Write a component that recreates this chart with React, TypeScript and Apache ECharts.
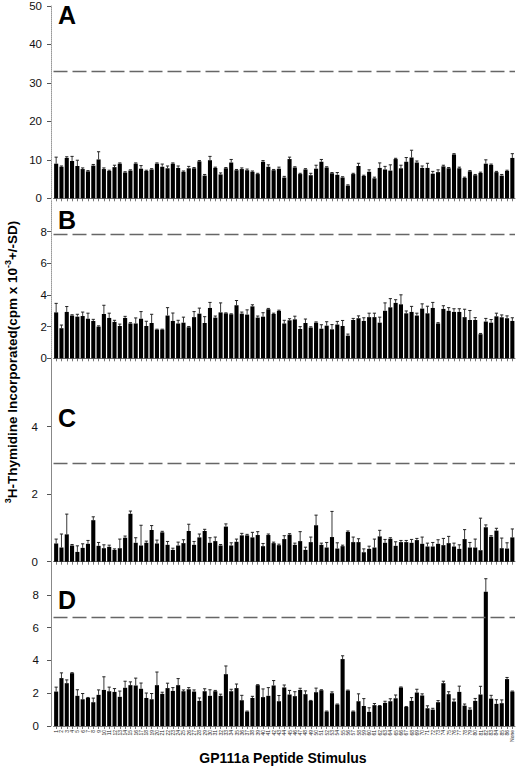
import React, { useEffect, useRef } from "react";
import * as echarts from "echarts";

const FONT = '"Liberation Sans", Arial, Helvetica, sans-serif';

const categories = [
  "1","2","3","4","5","6","7","8","9","10","11","12","13","14","15","16","17","18","19","20",
  "21","22","23","24","25","26","27","28","29","30","31","32","33","34","35","36","37","38","39","40",
  "41","42","43","44","45","46","47","48","49","50","51","52","53","54","55","56","57","58","59","60",
  "61","62","63","64","65","66","67","68","69","70","71","72","73","74","75","76","77","78","79","80",
  "81","82","83","84","85","86","None",
];

const valuesA = [
  9.0, 8.2, 10.5, 9.7, 8.4, 7.6, 7.0, 8.5, 10.1, 7.6, 7.1, 8.1, 9.0, 6.7, 7.2, 9.0, 7.7, 7.1, 7.5, 9.0,
  8.2, 7.8, 9.0, 7.9, 6.9, 7.8, 7.8, 9.6, 5.9, 9.9, 7.9, 6.2, 7.8, 9.3, 7.3, 7.6, 7.3, 6.9, 6.3,
  9.5, 8.2, 7.3, 7.7, 5.4, 10.2, 8.0, 6.3, 7.5, 6.0, 7.7, 9.5, 8.0, 6.5, 6.1, 5.4, 3.3, 6.3, 8.4, 5.8,
  6.9, 5.2, 7.9, 7.5, 7.2, 10.2, 7.8, 9.5, 10.6, 9.3, 7.9, 7.9, 6.4, 6.8, 8.3, 7.8, 11.4, 7.8, 5.3, 7.0,
  6.0, 6.6, 9.0, 8.7, 6.8, 5.9, 7.1, 10.5,
];
const sdA = [
  1.7, 0.2, 0.3, 1.2, 1.5, 0.3, 0.2, 0.3, 2.0, 0.3, 0.2, 0.5, 0.2, 0.2, 0.2, 0.2, 0.8, 0.2, 0.2, 0.2,
  0.7, 0.6, 0.2, 0.5, 0.2, 0.5, 0.2, 0.2, 0.3, 1.0, 0.2, 0.4, 0.2, 0.8, 0.2, 0.3, 0.3, 0.2, 0.2,
  0.3, 0.5, 0.2, 0.4, 0.3, 0.5, 0.2, 0.2, 0.2, 0.5, 0.9, 0.6, 0.2, 0.2, 0.6, 0.2, 0.2, 0.2, 0.7, 0.2,
  0.5, 0.3, 1.3, 0.8, 1.5, 0.2, 0.8, 1.1, 1.9, 0.4, 0.5, 1.2, 0.6, 0.6, 0.3, 0.2, 0.2, 0.3, 0.2, 0.2,
  0.2, 0.2, 1.0, 0.2, 0.2, 0.3, 0.2, 1.1,
];

const valuesB = [
  2.9, 1.9, 2.93, 2.7, 2.63, 2.67, 2.5, 2.36, 2.0, 2.8, 2.55, 2.3, 2.04, 2.55, 2.2, 2.2, 2.5, 2.04, 2.23, 1.81,
  1.81, 2.7, 2.36, 2.2, 2.25, 1.96, 2.6, 2.82, 2.23, 3.18, 2.57, 2.9, 2.84, 2.78, 3.35, 2.82, 2.76, 3.28, 2.57,
  2.63, 3.1, 2.8, 2.99, 2.2, 2.4, 2.46, 1.85, 2.23, 1.94, 2.25, 1.87, 2.06, 1.83, 2.13, 2.04, 1.43, 2.42, 2.53, 2.36,
  2.6, 2.6, 2.25, 3.0, 3.22, 3.5, 3.41, 2.84, 2.93, 2.7, 3.14, 2.84, 3.18, 2.2, 3.12, 3.0, 2.93, 2.93, 2.6, 2.42,
  2.42, 1.52, 2.32, 2.25, 2.65, 2.59, 2.53, 2.36,
];
const sdB = [
  0.57, 0.2, 0.34, 0.05, 0.15, 0.25, 0.35, 0.1, 0.05, 0.55, 0.3, 0.1, 0.12, 0.1, 0.05, 0.35, 0.45, 0.3, 0.55, 0.03,
  0.03, 0.5, 0.5, 0.2, 0.35, 0.05, 0.35, 0.35, 0.4, 0.35, 0.1, 0.6, 0.03, 0.03, 0.3, 0.1, 0.3, 0.1, 0.1,
  0.25, 0.05, 0.05, 0.05, 0.2, 0.1, 0.2, 0.15, 0.25, 0.05, 0.05, 0.25, 0.25, 0.3, 0.2, 0.35, 0.1, 0.1, 0.15, 0.2,
  0.25, 0.25, 0.35, 0.5, 0.55, 0.2, 0.6, 0.15, 0.35, 0.15, 0.3, 0.45, 0.35, 0.05, 0.2, 0.2, 0.2, 0.2, 0.5, 0.6,
  0.15, 0.05, 0.2, 0.2, 0.2, 0.15, 0.15, 0.2,
];

const valuesC = [
  0.54, 0.42, 0.81, 0.48, 0.29, 0.41, 0.53, 1.23, 0.47, 0.4, 0.44, 0.35, 0.4, 0.71, 1.42, 0.56, 0.48, 0.56, 0.94, 0.54,
  0.87, 0.5, 0.35, 0.48, 0.55, 0.91, 0.5, 0.72, 0.91, 0.56, 0.61, 0.48, 1.04, 0.48, 0.59, 0.78, 0.78, 0.72, 0.79,
  0.46, 0.79, 0.55, 0.49, 0.67, 0.8, 0.5, 0.61, 0.35, 0.58, 1.08, 0.5, 0.42, 0.73, 0.39, 0.46, 0.88, 0.58, 0.58, 0.28,
  0.38, 0.42, 0.75, 0.56, 0.68, 0.47, 0.58, 0.58, 0.56, 0.64, 0.53, 0.45, 0.45, 0.53, 0.49, 0.55, 0.45, 0.38, 0.67, 0.42,
  0.42, 0.34, 1.02, 0.74, 0.92, 0.4, 0.39, 0.72,
];
const sdC = [
  0.13, 0.4, 0.6, 0.03, 0.18, 0.12, 0.1, 0.1, 0.1, 0.1, 0.05, 0.03, 0.27, 0.05, 0.08, 0.15, 0.6, 0.05, 0.13, 0.1,
  0.03, 0.1, 0.05, 0.1, 0.1, 0.2, 0.1, 0.1, 0.05, 0.15, 0.12, 0.03, 0.08, 0.08, 0.08, 0.06, 0.03, 0.15, 0.1,
  0.08, 0.03, 0.03, 0.03, 0.1, 0.03, 0.05, 0.28, 0.08, 0.15, 0.3, 0.05, 0.15, 0.76, 0.17, 0.03, 0.03, 0.15, 0.1, 0.1,
  0.08, 0.25, 0.18, 0.1, 0.03, 0.12, 0.05, 0.05, 0.1, 0.05, 0.2, 0.1, 0.12, 0.12, 0.2, 0.2, 0.1, 0.12, 0.28, 0.15,
  0.25, 0.95, 0.07, 0.03, 0.07, 0.3, 0.17, 0.25,
];

const valuesD = [
  2.1, 2.92, 2.61, 3.22, 1.84, 1.63, 1.71, 1.45, 1.9, 2.2, 2.12, 2.08, 1.78, 2.33, 2.49, 2.47, 2.27, 1.71, 1.63, 2.49,
  1.96, 2.31, 2.14, 2.49, 2.12, 2.24, 2.1, 1.53, 2.12, 1.84, 2.12, 1.84, 3.16, 2.12, 2.31, 1.57, 0.88, 1.71, 2.49,
  1.76, 1.84, 2.47, 1.51, 2.35, 1.92, 1.82, 2.2, 1.94, 1.53, 2.06, 2.18, 0.88, 2.0, 1.31, 4.08, 2.16, 0.88, 1.51, 1.22,
  0.86, 1.27, 1.22, 1.41, 1.51, 1.69, 2.35, 1.16, 1.53, 2.04, 1.86, 1.08, 1.0, 1.45, 2.61, 1.94, 1.49, 2.08, 1.24, 1.0,
  1.53, 1.92, 8.18, 1.67, 1.35, 1.39, 2.86, 2.1,
];
const sdD = [
  0.27, 0.32, 0.2, 0.03, 0.37, 0.35, 0.03, 0.25, 0.3, 0.8, 0.25, 0.2, 0.35, 0.4, 0.2, 0.45, 0.35, 0.3, 0.35, 0.8,
  0.1, 0.3, 0.2, 0.4, 0.08, 0.1, 0.1, 0.18, 0.15, 0.37, 0.05, 0.1, 0.5, 0.12, 0.25, 0.3, 0.03, 0.1, 0.03,
  0.5, 0.5, 0.3, 0.35, 0.15, 0.25, 0.27, 0.1, 0.2, 0.03, 0.25, 0.03, 0.03, 0.08, 0.03, 0.2, 0.03, 0.03, 0.45, 0.45,
  0.25, 0.1, 0.03, 0.1, 0.15, 0.2, 0.03, 0.03, 0.2, 0.2, 0.1, 0.15, 0.08, 0.1, 0.12, 0.15, 0.15, 0.35, 0.1, 0.1,
  0.15, 0.5, 0.8, 0.2, 0.25, 0.2, 0.1, 0.03,
];

const panelLetters = ["A", "B", "C", "D"];
const thresholds = [33, 7.85, 2.92, 6.63];
const axisMax = [50, 10, 6, 10];
const axisInterval = [10, 2, 2, 2];

const panels = [
  { values: valuesA, sd: sdA, top: 5, height: 193.3, labelMargin: 9, dotted: true, showMax: true, letterY: 15 },
  { values: valuesB, sd: sdB, top: 200, height: 158.3, labelMargin: 4, dotted: true, showMax: false, letterY: 219.5 },
  { values: valuesC, sd: sdC, top: 359.2, height: 202.5, labelMargin: 13, dotted: false, showMax: false, letterY: 418 },
  { values: valuesD, sd: sdD, top: 562, height: 164, labelMargin: 12, dotted: false, showMax: false, letterY: 599.5 },
];

const GRID_LEFT = 53.5;
const GRID_WIDTH = 461.5;

export default function App() {
  const ref = useRef<HTMLDivElement>(null);

  useEffect(() => {
    if (!ref.current) return;
    const chart = echarts.init(ref.current, null, { renderer: "svg" });

    const grids: any[] = [];
    const xAxes: any[] = [];
    const yAxes: any[] = [];
    const series: any[] = [];
    const graphics: any[] = [];

    panels.forEach((p, i) => {
      const isLast = i === panels.length - 1;
      grids.push({ left: GRID_LEFT, width: GRID_WIDTH, top: p.top, height: p.height, containLabel: false });
      xAxes.push({
        type: "category",
        gridIndex: i,
        data: categories,
        boundaryGap: true,
        axisLine: { show: true, lineStyle: { color: "#777", width: 1 } },
        axisTick: { show: true, alignWithLabel: true, length: 3, interval: 0, lineStyle: { color: "#555", width: 0.8 } },
        axisLabel: isLast
          ? { show: true, interval: 0, rotate: 90, fontSize: 5, margin: 4, color: "#222", fontFamily: FONT }
          : { show: false },
        splitLine: { show: false },
      });
      yAxes.push({
        type: "value",
        gridIndex: i,
        min: 0,
        max: axisMax[i],
        interval: axisInterval[i],
        offset: 2.5,
        axisLine: { show: true, lineStyle: { color: p.dotted ? "#999" : "#888", width: 1, type: p.dotted ? "dotted" : "solid" } },
        axisTick: { show: true, length: 4, lineStyle: { color: "#555" } },
        axisLabel: { fontSize: 11.5, color: "#111", margin: p.labelMargin, fontFamily: FONT, showMaxLabel: p.showMax },
        splitLine: { show: false },
      });
      series.push({
        type: "bar",
        xAxisIndex: i,
        yAxisIndex: i,
        data: p.values,
        barWidth: "77%",
        itemStyle: { color: "#000" },
        silent: true,
        markLine: {
          silent: true,
          symbol: "none",
          label: { show: false },
          lineStyle: { color: "#666", width: 1.3, type: [14, 5] },
          data: [{ yAxis: thresholds[i] }],
        },
      });
      series.push({
        type: "custom",
        xAxisIndex: i,
        yAxisIndex: i,
        silent: true,
        z: 5,
        data: p.values.map((v, k) => [k, v, p.sd[k]]),
        encode: { x: 0, y: 1 },
        renderItem: (params: any, api: any) => {
          const x = api.value(0);
          const v = api.value(1);
          const s = api.value(2);
          const p0 = api.coord([x, v]);
          const p1 = api.coord([x, v + s]);
          const hw = 1.6;
          return {
            type: "group",
            children: [
              { type: "line", shape: { x1: p0[0], y1: p0[1], x2: p1[0], y2: p1[1] }, style: { stroke: "#222", lineWidth: 0.9 } },
              { type: "line", shape: { x1: p1[0] - hw, y1: p1[1], x2: p1[0] + hw, y2: p1[1] }, style: { stroke: "#222", lineWidth: 1 } },
            ],
          };
        },
      });
      graphics.push({
        type: "text",
        x: 58,
        y: p.letterY,
        style: {
          text: panelLetters[i],
          fontSize: 25,
          fontWeight: "bold",
          fontFamily: FONT,
          fill: "#000",
          align: "left",
          verticalAlign: "middle",
        },
      });
    });

    graphics.push({
      type: "text",
      x: 12,
      y: 362,
      rotation: Math.PI / 2,
      style: {
        text: "{sup|3}{b|H-Thymidine Incorporated(cpm x 10}{sup|-3}{b|+/-SD)}",
        align: "center",
        verticalAlign: "middle",
        fill: "#000",
        rich: {
          b: { fontSize: 13.5, fontWeight: "bold", fontFamily: FONT, fill: "#000", lineHeight: 18, verticalAlign: "middle" },
          sup: { fontSize: 9, fontWeight: "bold", fontFamily: FONT, fill: "#000", lineHeight: 10, verticalAlign: "top" },
        },
      },
    });
    graphics.push({
      type: "text",
      x: 283,
      y: 758,
      style: {
        text: "GP111a Peptide Stimulus",
        fontSize: 14,
        fontWeight: "bold",
        fontFamily: FONT,
        fill: "#000",
        align: "center",
        verticalAlign: "middle",
      },
    });

    chart.setOption({
      animation: false,
      backgroundColor: "#fff",
      grid: grids,
      xAxis: xAxes,
      yAxis: yAxes,
      series,
      graphic: graphics,
    });

    return () => chart.dispose();
  }, []);

  return (
    <div
      ref={ref}
      style={{ position: "absolute", left: 0, top: 0, width: 520, height: 767, background: "#fff" }}
    />
  );
}
